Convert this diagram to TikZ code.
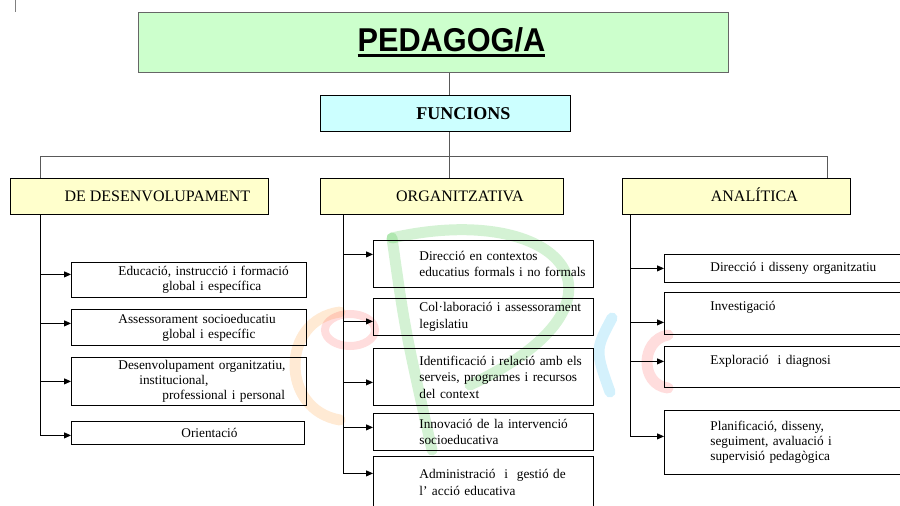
\documentclass[tikz,border=0pt]{standalone}
\usepackage{fontspec}
\usepackage{graphicx}
\setmainfont{Liberation Serif}
\newfontfamily\titlefont{Liberation Sans}
\usetikzlibrary{arrows.meta}

\definecolor{titlefill}{HTML}{CCFFCC}
\definecolor{funfill}{HTML}{CCFFFF}
\definecolor{headfill}{HTML}{FFFFCC}

\newcommand\thickul[1]{\vtop{\hbox{#1}\kern2bp\hrule height 3.5bp}}
\newcommand\ind[1]{\hspace*{#1bp}}

\begin{document}
\begin{tikzpicture}[x=1bp,y=-1bp,
    box/.style={draw,line width=0.8bp,anchor=north west,inner sep=0pt},
    pad/.style={execute at begin node={\hspace*{36bp}}},
    head/.style={box,fill=headfill,pad,minimum height=36bp,text height=12bp,text depth=2bp,font=\fontsize{16bp}{18bp}\selectfont},
    itm/.style={box,text width=#1,align=left,font=\fontsize{13.3bp}{15bp}\selectfont},
    loose/.style={font=\fontsize{13.3bp}{16.5bp}\selectfont},
    ln/.style={line width=0.8bp,black!65},
    arr/.style={line width=0.8bp,-{Triangle[length=7bp,width=6bp]}},
    wm/.style={line width=11bp,line cap=round,opacity=0.17}]
  \useasboundingbox (0,0) rectangle (900,506);
  \draw[black!50] (15.5,0) -- (15.5,12);

  % watermark
  \draw[wm,orange] (340,312) .. controls (280,320) and (280,410) .. (340,420);
  \draw[wm,red!80,line width=8bp] (350,330) ellipse [x radius=25, y radius=16];
  \draw[wm,green!70!black] (392,238) .. controls (405,330) .. (432,450);
  \draw[wm,green!70!black] (392,238) .. controls (560,200) and (650,300) .. (470,385);
  \draw[wm,cyan] (612,318) .. controls (595,350) .. (610,392);
  \draw[wm,red!80] (668,335) .. controls (640,340) and (640,385) .. (668,388);

  % top
  \node[box,fill=titlefill,draw=black!60,pad,minimum width=590bp,minimum height=60bp] (tit) at (138,12)
    {\titlefont\bfseries\fontsize{33bp}{36bp}\selectfont\scalebox{0.93}[1]{\thickul{PEDAGOG/A}}};
  \node[box,fill=funfill,pad,minimum width=250bp,minimum height=36bp,font=\bfseries\fontsize{18bp}{20bp}\selectfont] (fun) at (320,95) {FUNCIONS};

  \node[head,minimum width=258bp] (dev) at (10,178) {DE DESENVOLUPAMENT};
  \node[head,minimum width=243bp] (org) at (320,178) {ORGANITZATIVA};
  \node[head,minimum width=228bp] (ana) at (622,178) {ANALÍTICA};

  % de desenvolupament
  \node[itm=235bp,minimum height=35bp] (d_1) at (71,262) {\ind{47}Educació, instrucció i formació\\\ind{91}global i específica};
  \node[itm=235bp,minimum height=36bp] (d_2) at (71,309) {\ind{47}Assessorament socioeducatiu\\\ind{91}global i específic};
  \node[itm=235bp,minimum height=48bp] (d_3) at (71,357) {\ind{47}Desenvolupament organitzatiu,\\\ind{68}institucional,\\\ind{91}professional i personal};
  \node[itm=233bp,minimum height=23bp] (d_4) at (71,421) {\ind{110}Orientació};

  % organitzativa
  \node[itm=220bp,loose,minimum height=47bp] (o_1) at (373,240) {\ind{46}Direcció en contextos\\\ind{46}educatius formals i no formals};
  \node[itm=220bp,loose,minimum height=37bp] (o_2) at (373,298) {\ind{46}Col·laboració i assessorament\\\ind{46}legislatiu};
  \node[itm=220bp,loose,minimum height=57bp] (o_3) at (373,348) {\ind{46}Identificació i relació amb els\\\ind{46}serveis, programes i recursos\\\ind{46}del context};
  \node[itm=220bp,loose,minimum height=37bp] (o_4) at (373,413) {\ind{46}Innovació de la intervenció\\\ind{46}socioeducativa};
  \node[itm=220bp,loose,minimum height=52bp] (o_5) at (373,456) {\ind{46}Administració\ \ i\ \ gestió de\\\ind{46}l’ acció educativa};

  % analitica
  \node[itm=250bp,minimum height=28bp] (a_1) at (664,254) {\ind{46}Direcció i disseny organitzatiu};
  \node[itm=250bp,minimum height=42bp] (a_2) at (664,292) {\ind{46}Investigació\\\mbox{}};
  \node[itm=250bp,minimum height=41bp] (a_3) at (664,346) {\ind{46}Exploració\ \ i diagnosi\\\mbox{}};
  \node[itm=250bp,minimum height=64bp] (a_4) at (664,410) {\ind{46}Planificació, disseny,\\\ind{46}seguiment, avaluació i\\\ind{46}supervisió pedagògica};

  % connectors
  \coordinate (hub) at (449,156);
  \coordinate (bl) at (40,156);
  \coordinate (br) at (827,156);
  \draw[ln] (tit.south -| hub) -- (fun.north -| hub);
  \draw[ln] (fun.south -| hub) -- (org.north -| hub);
  \draw[ln] (dev.north -| bl) -- (bl) -- (br) -- (ana.north -| br);

  \coordinate (tl) at (40,0);
  \coordinate (tm) at (343,0);
  \coordinate (tr) at (630,0);
  \draw[arr] (dev.south -| tl) |- ([yshift=-2.5bp]d_4.west);
  \foreach \b/\d in {d_1/5.5bp,d_2/4bp,d_3/0bp}
    \draw[arr] ([yshift=\d]\b.west -| tl) -- ([yshift=\d]\b.west);
  \draw[arr] (org.south -| tm) |- ([yshift=9bp]o_5.west);
  \foreach \b/\d in {o_1/9.5bp,o_2/-4.5bp,o_3/-5.5bp,o_4/4.5bp}
    \draw[arr] ([yshift=\d]\b.west -| tm) -- ([yshift=\d]\b.west);
  \draw[arr] (ana.south -| tr) |- ([yshift=6bp]a_4.west);
  \foreach \b/\d in {a_1/0bp,a_2/-9bp,a_3/5.5bp}
    \draw[arr] ([yshift=\d]\b.west -| tr) -- ([yshift=\d]\b.west);
\end{tikzpicture}
\end{document}
